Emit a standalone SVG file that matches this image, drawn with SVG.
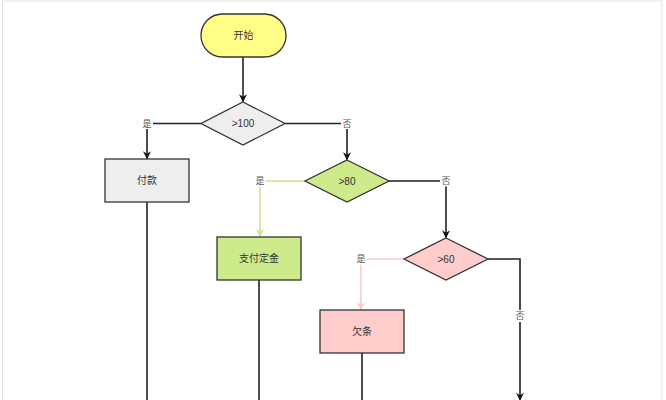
<svg xmlns="http://www.w3.org/2000/svg" width="666" height="400" viewBox="0 0 666 400">
<style>
.n{stroke:#333;stroke-width:1.3}
.t{font-family:"Liberation Sans","Noto Sans CJK SC",sans-serif;font-size:10px;fill:#333;text-anchor:middle;dominant-baseline:central}
.l{font-family:"Liberation Sans","Noto Sans CJK SC",sans-serif;font-size:9px;fill:#555;text-anchor:middle;dominant-baseline:central}
.lb{fill:#fff}
.c{fill:none;stroke-width:1.6}
.k{stroke:#222}
.g{stroke:#c6e68e}
.p{stroke:#fbcaca}
</style>
<defs>
<marker id="ak" viewBox="0 0 10 10" refX="9" refY="5" markerWidth="8" markerHeight="8" markerUnits="userSpaceOnUse" orient="auto"><path d="M0,0L10,5L0,10L3,5Z" fill="#111"/></marker>
<marker id="ag" viewBox="0 0 10 10" refX="9" refY="5" markerWidth="8" markerHeight="8" markerUnits="userSpaceOnUse" orient="auto"><path d="M0,0L10,5L0,10L3,5Z" fill="#c6e68e"/></marker>
<marker id="ap" viewBox="0 0 10 10" refX="9" refY="5" markerWidth="8" markerHeight="8" markerUnits="userSpaceOnUse" orient="auto"><path d="M0,0L10,5L0,10L3,5Z" fill="#fbcaca"/></marker>
</defs>
<rect x="0" y="0" width="666" height="400" fill="#fff"/>
<rect x="2.5" y="1" width="659.5" height="410" fill="none" stroke="#e2e2e2" stroke-width="1"/>
<g id="connectors">
<path class="c k" d="M243,57V101.5" marker-end="url(#ak)"/>
<path class="c k" d="M201,123.5H147V158.5" marker-end="url(#ak)"/>
<path class="c k" d="M285,123.5H347V159.5" marker-end="url(#ak)"/>
<path class="c k" d="M147,202V400"/>
<path class="c g" d="M305,181H260V236.5" marker-end="url(#ag)"/>
<path class="c k" d="M389,181H446V237.5" marker-end="url(#ak)"/>
<path class="c k" d="M259,280V400"/>
<path class="c p" d="M404,259H361V309.5" marker-end="url(#ap)"/>
<path class="c k" d="M488,259H520V400" marker-end="url(#ak)"/>
<path class="c k" d="M362,353V400"/>
<rect class="lb" x="141" y="118" width="12" height="11"/>
<text class="l" x="147" y="123.5">是</text>
<rect class="lb" x="341" y="118" width="12" height="11"/>
<text class="l" x="347" y="123.5">否</text>
<rect class="lb" x="254" y="175.5" width="12" height="11"/>
<text class="l" x="260" y="181">是</text>
<rect class="lb" x="440" y="175.5" width="12" height="11"/>
<text class="l" x="446" y="181">否</text>
<rect class="lb" x="355" y="253.5" width="12" height="11"/>
<text class="l" x="361" y="259">是</text>
<rect class="lb" x="514" y="310" width="12" height="12"/>
<text class="l" x="520" y="316">否</text>
</g>
<g id="start"><rect class="n" x="201" y="14" width="85" height="43" rx="21.5" fill="#ffff88"/><text class="t" x="243.5" y="35.5">开始</text></g>
<g id="d100"><path class="n" d="M243,102L285,123.5L243,145L201,123.5Z" fill="#eeeeee"/><text class="t" x="243" y="123.5">&gt;100</text></g>
<g id="pay"><rect class="n" x="105" y="159" width="84" height="43" fill="#eeeeee"/><text class="t" x="147" y="180.5">付款</text></g>
<g id="d80"><path class="n" d="M347,160L389,181L347,202L305,181Z" fill="#cdeb8b"/><text class="t" x="347" y="181">&gt;80</text></g>
<g id="deposit"><rect class="n" x="217" y="237" width="84" height="43" fill="#cdeb8b"/><text class="t" x="259" y="258.5">支付定金</text></g>
<g id="d60"><path class="n" d="M446,238L488,259L446,280L404,259Z" fill="#ffcccc"/><text class="t" x="446" y="259">&gt;60</text></g>
<g id="iou"><rect class="n" x="320" y="310" width="84" height="43" fill="#ffcccc"/><text class="t" x="362" y="331.5">欠条</text></g>
</svg>
